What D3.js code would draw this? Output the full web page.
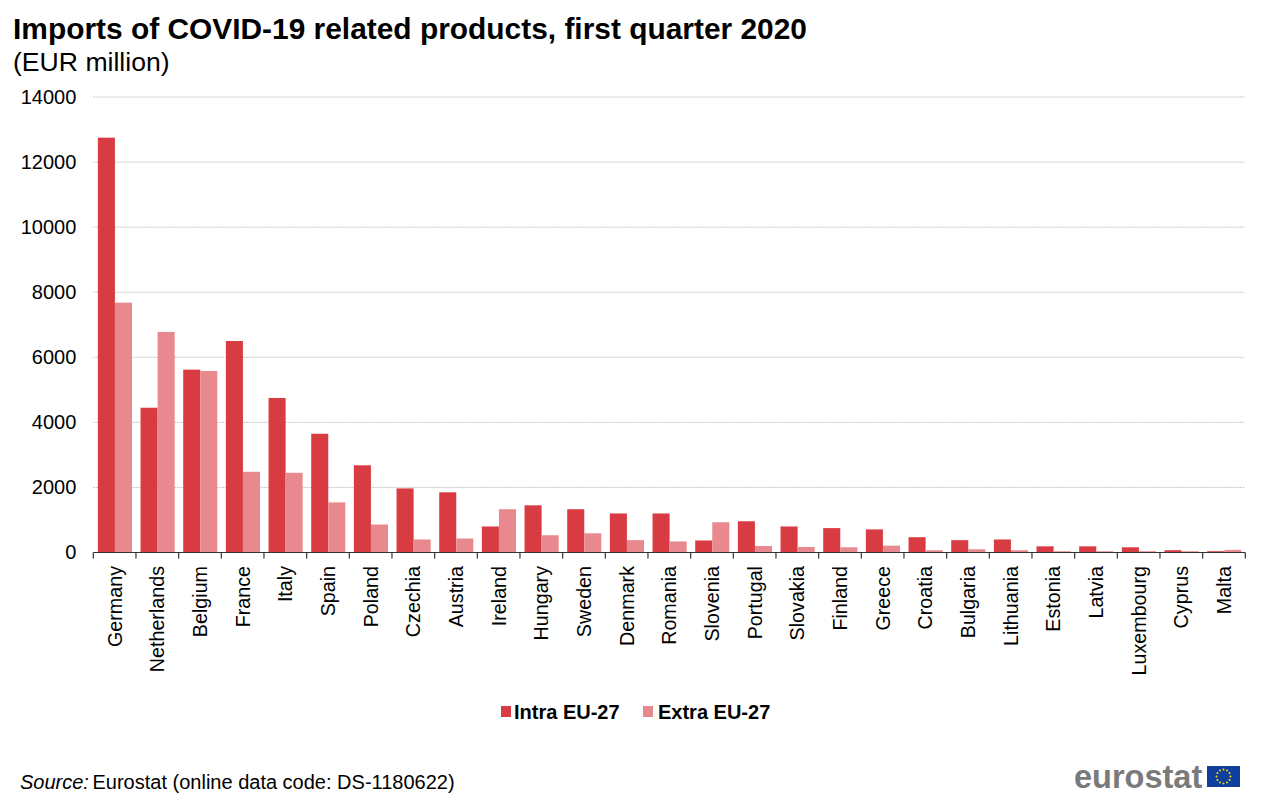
<!DOCTYPE html>
<html>
<head>
<meta charset="utf-8">
<script src="https://cdn.jsdelivr.net/npm/d3@7"></script>
<style>
  html, body { margin: 0; padding: 0; background: #fff; }
  svg { display: block; }
  text { font-family: "Liberation Sans", Arial, sans-serif; fill: #000; }
</style>
</head>
<body>
<div id="chart"></div>
<script>
// values, EUR million
const countries = ['Germany', 'Netherlands', 'Belgium', 'France', 'Italy', 'Spain', 'Poland', 'Czechia', 'Austria',
  'Ireland', 'Hungary', 'Sweden', 'Denmark', 'Romania', 'Slovenia', 'Portugal', 'Slovakia', 'Finland', 'Greece',
  'Croatia', 'Bulgaria', 'Lithuania', 'Estonia', 'Latvia', 'Luxembourg', 'Cyprus', 'Malta']
const intraEU = [12750, 4450, 5620, 6500, 4750, 3650, 2680, 1970, 1850,
  800, 1450, 1330, 1200, 1200, 370, 960, 800, 750, 710,
  470, 380, 400, 190, 190, 160, 70, 40]
const extraEU = [7680, 6780, 5580, 2480, 2450, 1540, 860, 400, 430,
  1330, 530, 590, 380, 340, 930, 200, 170, 160, 210,
  70, 100, 70, 40, 40, 40, 40, 80]
const seriesNames = ['Intra EU-27', 'Extra EU-27']
const seriesColors = ['#d93b43', '#e8898f']
const yTicks = [0, 2000, 4000, 6000, 8000, 10000, 12000, 14000]

const width = 1265
const height = 800

const svg = d3.select('#chart').append('svg')
  .attr('width', width)
  .attr('height', height)

// Titles
svg.append('text')
  .attr('x', 13)
  .attr('y', 39)
  .style('font-size', '29.9px')
  .style('font-weight', 'bold')
  .text('Imports of COVID-19 related products, first quarter 2020')

svg.append('text')
  .attr('x', 13)
  .attr('y', 71)
  .style('font-size', '26.6px')
  .text('(EUR million)')

// Scales
const x = d3.scaleBand()
  .domain(countries)
  .range([93.3, 1245.3])
  .paddingInner(0.2)
  .paddingOuter(0.1)

const y = d3.scaleLinear()
  .domain([0, 14000])
  .range([552.5, 97])

// Gridlines
svg.append('g')
  .selectAll('line')
  .data(yTicks.slice(1))
  .join('line')
  .attr('x1', 93.3)
  .attr('x2', 1245.3)
  .attr('y1', d => y(d))
  .attr('y2', d => y(d))
  .attr('stroke', '#c4c4c4')
  .attr('stroke-width', 1)
  .attr('stroke-dasharray', '2,1')

// Bars, one group per series
const barWidth = x.bandwidth() / 2
;[intraEU, extraEU].forEach((values, i) => {
  svg.append('g')
    .selectAll('rect')
    .data(values)
    .join('rect')
    .attr('x', (d, j) => x(countries[j]) + i * barWidth + 0.3)
    .attr('y', d => y(d))
    .attr('width', barWidth)
    .attr('height', d => y(0) - y(d))
    .attr('fill', seriesColors[i])
})

// Y axis, only the labels show
const yAxis = svg.append('g')
  .attr('transform', 'translate(93.3,0)')
  .call(d3.axisLeft(y).tickValues(yTicks).tickFormat(d3.format('d')).tickSize(0).tickPadding(17))
yAxis.select('.domain').remove()
yAxis.selectAll('text')
  .style('font-size', '20px')

// X axis, ticks sit on the band edges
const edges = countries.map(c => x(c) - x.step() * 0.1).concat([1245.3])
const xAxisG = svg.append('g')
xAxisG.append('line')
  .attr('x1', 93.3)
  .attr('x2', 1245.3)
  .attr('y1', y(0))
  .attr('y2', y(0))
  .attr('stroke', '#333')
  .attr('stroke-width', 1.2)
xAxisG.selectAll('.edge')
  .data(edges)
  .join('line')
  .attr('class', 'edge')
  .attr('x1', d => d)
  .attr('x2', d => d)
  .attr('y1', y(0))
  .attr('y2', y(0) + 6)
  .attr('stroke', '#333')
  .attr('stroke-width', 1.2)

xAxisG.selectAll('text')
  .data(countries)
  .join('text')
  .attr('transform', d => `translate(${x(d) + x.bandwidth() / 2 + 7},566) rotate(-90)`)
  .attr('text-anchor', 'end')
  .style('font-size', '19.7px')
  .text(d => d)

// Legend
const legendX = [501, 643]
const legendTextX = [514, 658]
const legend = svg.append('g')
seriesNames.forEach((name, i) => {
  legend.append('rect')
    .attr('x', legendX[i])
    .attr('y', 706)
    .attr('width', 10)
    .attr('height', 11)
    .attr('fill', seriesColors[i])
  legend.append('text')
    .attr('x', legendTextX[i])
    .attr('y', 719)
    .style('font-size', '20px')
    .style('font-weight', 'bold')
    .text(name)
})

// Source
const source = svg.append('text')
  .attr('x', 20)
  .attr('y', 789)
  .style('font-size', '20px')
source.append('tspan').style('font-style', 'italic').text('Source:')
source.append('tspan').attr('dx', -2).text(' Eurostat (online data code: DS-1180622)')

// Eurostat logo
svg.append('text')
  .attr('x', 1074)
  .attr('y', 788)
  .style('font-size', '32.5px')
  .style('font-weight', 'bold')
  .style('fill', '#7a7a7a')
  .text('eurostat')

svg.append('rect')
  .attr('x', 1207)
  .attr('y', 766)
  .attr('width', 33)
  .attr('height', 21)
  .attr('fill', '#103f9b')

svg.append('g')
  .selectAll('circle')
  .data(d3.range(12))
  .join('circle')
  .attr('cx', d => 1223.5 + 7 * Math.sin(d * Math.PI / 6))
  .attr('cy', d => 776.5 - 7 * Math.cos(d * Math.PI / 6))
  .attr('r', 1)
  .attr('fill', '#f5d90a')
</script>
</body>
</html>
